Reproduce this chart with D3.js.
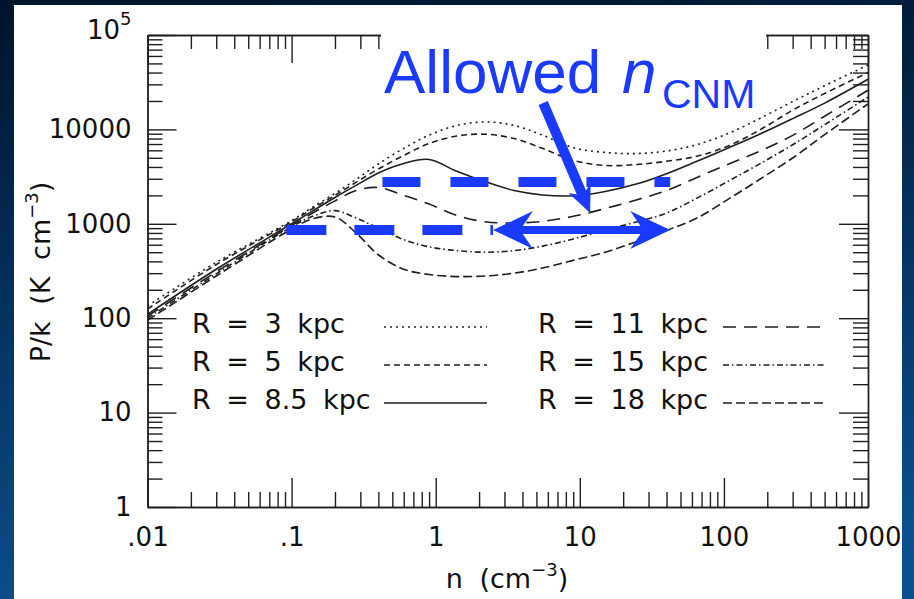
<!DOCTYPE html>
<html>
<head>
<meta charset="utf-8">
<script src="https://cdn.jsdelivr.net/npm/d3@7"></script>
<style>
  body { margin: 0; background: #001630; }
  svg { display: block; }
  text { font-family: "DejaVu Sans", sans-serif; fill: #111; }
</style>
</head>
<body>
<svg id="chart" width="914" height="599"></svg>
<script>
// density grid (cm^-3), shared by every curve
const nGrid = [0.01, 0.03, 0.1, 0.14, 0.2, 0.28, 0.4, 0.6, 0.9, 1.4, 2.2, 3.5, 5.5, 9, 15, 25, 40, 65, 110, 180, 300, 500, 1000];

// P/k (K cm^-3), one array per galactocentric radius
const p3  = [135, 390, 1080, 1500, 2100, 2950, 4300, 6300, 8700, 11000, 12000, 11000, 8700, 6400, 5700, 5550, 5900, 6900, 9200, 13200, 19700, 29000, 48000];
const p5  = [125, 370, 1050, 1450, 2000, 2750, 3800, 5300, 7100, 8500, 8900, 8000, 6300, 4700, 4150, 4250, 4600, 5200, 6800, 10000, 16000, 24000, 40000];
const p85 = [110, 330, 1000, 1370, 1900, 2550, 3450, 4350, 4800, 3600, 2800, 2250, 2020, 1980, 2200, 2650, 3400, 4600, 6470, 9000, 13000, 19000, 34000];
const p11 = [105, 310, 960, 1300, 1750, 2250, 2420, 2000, 1620, 1230, 1050, 1020, 1060, 1200, 1450, 1800, 2250, 3100, 4350, 5950, 8650, 13800, 26000];
const p15 = [100, 295, 930, 1200, 1380, 1150, 900, 680, 570, 520, 500, 520, 580, 690, 860, 1050, 1300, 1870, 2890, 4370, 6870, 11200, 22000];
const p18 = [95, 280, 880, 1130, 1180, 800, 470, 330, 290, 276, 280, 300, 340, 410, 500, 650, 850, 1150, 1870, 3000, 4980, 8800, 18600];

const radii = ["3", "5", "8.5", "11", "15", "18"];
const seriesP = [p3, p5, p85, p11, p15, p18];
const dashes = ["2,4", "6,4", null, "13,8", "6,3,1.5,3", "9,4"];

const xTickLabels = [".01", ".1", "1", "10", "100", "1000"];
const yTickLabels = ["1", "10", "100", "1000", "10000", "10"];

// annotation values (data units)
const pHigh = 2770, pLow = 860;
const highRange = [0.427, 42.4];
const lowDashRange = [0.092, 2.5];
const arrowRange = [2.5, 42.4];
const pointerFrom = [5.57, 19000], pointerTo = [11.8, 1300];

const blue = "#1a3bff";
const ink = "#1e1e1e";

const svg = d3.select("#chart");

// background
const defs = svg.append("defs");
const grad = defs.append("linearGradient").attr("id", "bg")
    .attr("x1", 0).attr("y1", 0).attr("x2", 0.15).attr("y2", 1);
grad.append("stop").attr("offset", 0).attr("stop-color", "#00142c");
grad.append("stop").attr("offset", 1).attr("stop-color", "#0b4f8c");
svg.append("rect").attr("width", 914).attr("height", 599).attr("fill", "url(#bg)");
svg.append("rect").attr("x", 14).attr("y", 5).attr("width", 888).attr("height", 600).attr("fill", "#fff");

const x = d3.scaleLog().domain([0.01, 1000]).range([147.5, 868]);
const y = d3.scaleLog().domain([1, 1e5]).range([507, 35]);

defs.append("clipPath").attr("id", "plot")
  .append("rect").attr("x", 147.5).attr("y", 35).attr("width", 868 - 147.5).attr("height", 507 - 35);

// curves
const line = d3.line()
    .x((d, i) => x(nGrid[i]))
    .y(d => y(d))
    .curve(d3.curveCatmullRom.alpha(0.5));

svg.append("g").attr("clip-path", "url(#plot)")
  .selectAll("path")
  .data(seriesP)
  .enter().append("path")
    .attr("d", d => line(d))
    .attr("fill", "none")
    .attr("stroke", ink)
    .attr("stroke-width", 1.6)
    .attr("stroke-dasharray", (d, i) => dashes[i]);

// ticks
const majorX = [0.01, 0.1, 1, 10, 100, 1000];
const minorX = [];
majorX.slice(0, -1).forEach(d => { for (let k = 2; k < 10; k++) minorX.push(d * k); });
const majorY = [1, 10, 100, 1000, 1e4, 1e5];
const minorY = [];
majorY.slice(0, -1).forEach(d => { for (let k = 2; k < 10; k++) minorY.push(d * k); });

function drawAxis(axisFn, scale, tx, ty, values, size, fmt, pad) {
  const g = svg.append("g")
      .attr("transform", `translate(${tx},${ty})`)
      .call(axisFn(scale).tickValues(values).tickSizeInner(-size).tickSizeOuter(0)
            .tickPadding(pad || 0).tickFormat(fmt || (() => "")));
  g.attr("font-size", 26).attr("font-family", "DejaVu Sans, sans-serif");
  g.selectAll("path, line").attr("stroke", ink).attr("stroke-width", 1.4);
  g.selectAll("text").attr("fill", "#111");
  return g;
}

drawAxis(d3.axisBottom, x, 0, 507, minorX, 15);
drawAxis(d3.axisBottom, x, 0, 507, majorX, 29, (d, i) => xTickLabels[i], 21);
drawAxis(d3.axisTop, x, 0, 35, minorX, 14);
drawAxis(d3.axisTop, x, 0, 35, majorX, 28);
drawAxis(d3.axisLeft, y, 147.5, 0, minorY, 15);
const yAx = drawAxis(d3.axisLeft, y, 147.5, 0, majorY, 29, (d, i) => yTickLabels[i], 16);
drawAxis(d3.axisRight, y, 868, 0, minorY, 15);
drawAxis(d3.axisRight, y, 868, 0, majorY, 29);

// 10^5 superscript
yAx.selectAll(".tick text").filter(d => d === 1e5)
  .attr("dy", "0.15em")
  .append("tspan").attr("dy", -14).attr("font-size", 18).text("5");

// white box behind the annotation label (hides part of top axis)
svg.append("rect").attr("x", 381).attr("y", 18).attr("width", 385).attr("height", 50).attr("fill", "#fff");

// axis titles
const xt = svg.append("text").attr("x", 507).attr("y", 588)
    .attr("text-anchor", "middle").attr("font-size", 27).attr("word-spacing", 8);
xt.append("tspan").text("n (cm");
xt.append("tspan").attr("dy", -12).attr("font-size", 18).text("\u22123");
xt.append("tspan").attr("dy", 12).text(")");

const yt = svg.append("text").attr("transform", "translate(50,272) rotate(-90)")
    .attr("text-anchor", "middle").attr("font-size", 27).attr("word-spacing", 8);
yt.append("tspan").text("P/k (K cm");
yt.append("tspan").attr("dy", -12).attr("font-size", 18).text("\u22123");
yt.append("tspan").attr("dy", 12).text(")");

// legend
const legX = [192, 538], legLine = [[384, 487], [723, 825]];
const legY = [333, 371, 409];
radii.forEach((r, i) => {
  const col = Math.floor(i / 3), row = i % 3;
  svg.append("text").attr("x", legX[col]).attr("y", legY[row])
    .attr("font-size", 27).attr("word-spacing", 7)
    .text(`R = ${r} kpc`);
  svg.append("line")
    .attr("x1", legLine[col][0]).attr("x2", legLine[col][1])
    .attr("y1", legY[row] - 6).attr("y2", legY[row] - 6)
    .attr("stroke", ink).attr("stroke-width", 1.6)
    .attr("stroke-dasharray", dashes[i]);
});

// blue annotations
svg.append("line")
  .attr("x1", x(highRange[0])).attr("x2", x(highRange[1]))
  .attr("y1", y(pHigh)).attr("y2", y(pHigh))
  .attr("stroke", blue).attr("stroke-width", 10).attr("stroke-dasharray", "38,30");
svg.append("line")
  .attr("x1", x(lowDashRange[0])).attr("x2", x(lowDashRange[1]))
  .attr("y1", y(pLow)).attr("y2", y(pLow))
  .attr("stroke", blue).attr("stroke-width", 10).attr("stroke-dasharray", "40,28");

function head(tx, ty, ux, uy, len, half, notch) {
  const px = -uy, py = ux;
  return [
    [tx, ty],
    [tx - ux * len + px * half, ty - uy * len + py * half],
    [tx - ux * notch, ty - uy * notch],
    [tx - ux * len - px * half, ty - uy * len - py * half]
  ];
}
function drawArrow(x1, y1, x2, y2, w, len, half, notch, both) {
  const L = Math.hypot(x2 - x1, y2 - y1);
  const ux = (x2 - x1) / L, uy = (y2 - y1) / L;
  const sx = both ? x1 + ux * notch : x1, sy = both ? y1 + uy * notch : y1;
  svg.append("line")
    .attr("x1", sx).attr("y1", sy)
    .attr("x2", x2 - ux * notch).attr("y2", y2 - uy * notch)
    .attr("stroke", blue).attr("stroke-width", w);
  svg.append("polygon").attr("fill", blue)
    .attr("points", head(x2, y2, ux, uy, len, half, notch).join(" "));
  if (both) svg.append("polygon").attr("fill", blue)
    .attr("points", head(x1, y1, -ux, -uy, len, half, notch).join(" "));
}

drawArrow(x(arrowRange[0]), y(pLow), x(arrowRange[1]), y(pLow), 8, 40, 19, 27, true);
drawArrow(x(pointerFrom[0]), y(pointerFrom[1]), x(pointerTo[0]), y(pointerTo[1]), 10, 27, 12, 19, false);

// label
const lab = svg.append("text").attr("x", 384).attr("y", 93)
    .style("font-family", "'Liberation Sans', Arial, sans-serif")
    .style("fill", blue).attr("font-size", 62);
lab.append("tspan").text("Allowed");
lab.append("tspan").attr("x", 622).attr("font-style", "italic").text("n");
lab.append("tspan").attr("x", 662).attr("dy", 15).attr("font-size", 41).text("CNM");
</script>
</body>
</html>
